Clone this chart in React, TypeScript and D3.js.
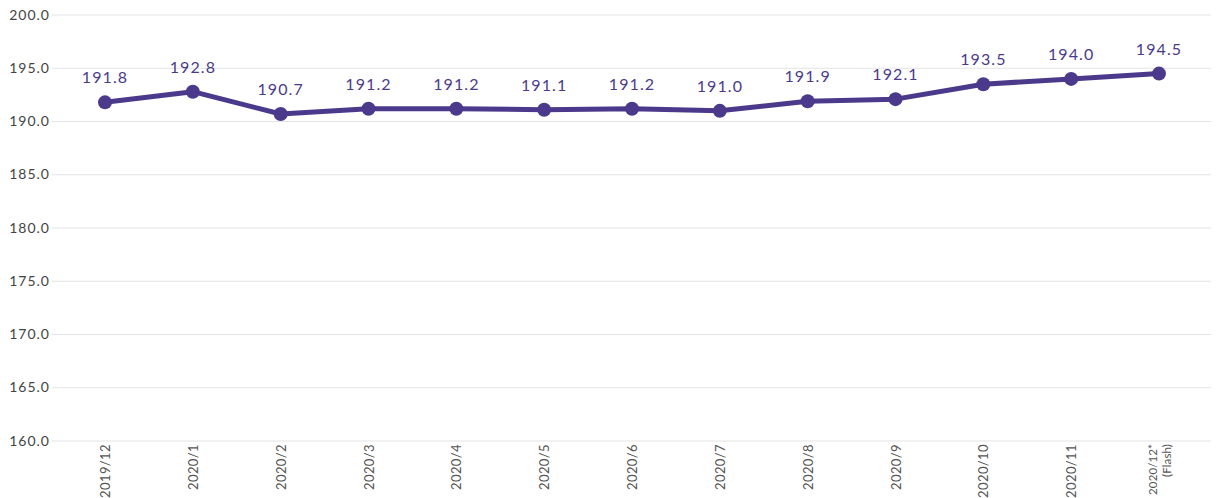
import { useEffect, useRef } from 'react';
import * as d3 from 'd3';

const months = ['2019/12', '2020/1', '2020/2', '2020/3', '2020/4', '2020/5', '2020/6', '2020/7', '2020/8', '2020/9', '2020/10', '2020/11', '2020/12*|(Flash)'];
const values = [191.8, 192.8, 190.7, 191.2, 191.2, 191.1, 191.2, 191.0, 191.9, 192.1, 193.5, 194.0, 194.5];
const yTicks = [160, 165, 170, 175, 180, 185, 190, 195, 200];

export default function App() {
  const svgRef = useRef<SVGSVGElement>(null);
  const width = 1217;
  const height = 498;

  useEffect(() => {
    if (!svgRef.current) return;
    const svg = d3.select(svgRef.current);
    svg.selectAll('*').remove();

    const color = '#4b3a8b';
    const gridLeft = 52;
    const gridRight = 1211;
    const font = 'Lato, "Noto Sans", sans-serif';

    const x = d3.scalePoint<string>().domain(months).range([105, 1159]);
    const y = d3.scaleLinear().domain([160, 200]).range([441, 15]);

    // grid + y labels
    const grid = svg.append('g');
    yTicks.forEach(t => {
      grid.append('line')
        .attr('x1', gridLeft).attr('x2', gridRight)
        .attr('y1', y(t)).attr('y2', y(t))
        .attr('stroke', '#e3e3e3').attr('stroke-width', 1);
      grid.append('text')
        .attr('x', 50).attr('y', y(t) + 1)
        .attr('text-anchor', 'end')
        .attr('dominant-baseline', 'middle')
        .attr('font-family', font)
        .attr('font-size', 14)
        .attr('letter-spacing', 1)
        .attr('fill', '#444')
        .text(t.toFixed(1));
    });

    // x labels, rotated
    months.forEach(m => {
      const lines = m.split('|');
      const cx = x(m)!;
      const g = svg.append('g')
        .attr('transform', `translate(${cx},444) rotate(-90)`);
      lines.forEach((l, i) => {
        const off = lines.length === 1 ? 5 : (i === 0 ? -2 : 12);
        g.append('text')
          .attr('x', 0).attr('y', off)
          .attr('text-anchor', 'end')
          .attr('font-family', font)
          .attr('font-size', lines.length === 1 ? 13 : 11.5)
          .attr('letter-spacing', lines.length === 1 ? 0.4 : 0.1)
          .attr('fill', '#555')
          .text(l);
      });
    });

    const data = months.map((m, i) => ({ m, v: values[i] }));

    const line = d3.line<{ m: string; v: number }>()
      .x(d => x(d.m)!)
      .y(d => y(d.v));

    svg.append('path')
      .datum(data)
      .attr('fill', 'none')
      .attr('stroke', color)
      .attr('stroke-width', 5)
      .attr('stroke-linejoin', 'round')
      .attr('d', line);

    svg.append('g').selectAll('circle')
      .data(data)
      .join('circle')
      .attr('cx', d => x(d.m)!)
      .attr('cy', d => y(d.v))
      .attr('r', 7)
      .attr('fill', color);

    svg.append('g').selectAll('text')
      .data(data)
      .join('text')
      .attr('x', d => x(d.m)!)
      .attr('y', d => y(d.v) - 19)
      .attr('text-anchor', 'middle')
      .attr('font-family', font)
      .attr('font-size', 16)
      .attr('letter-spacing', 1.1)
      .attr('fill', color)
      .text(d => d.v.toFixed(1));
  }, []);

  return (
    <svg
      ref={svgRef}
      width={width}
      height={height}
      style={{ position: 'absolute', left: 0, top: 0, background: '#fff' }}
    />
  );
}
